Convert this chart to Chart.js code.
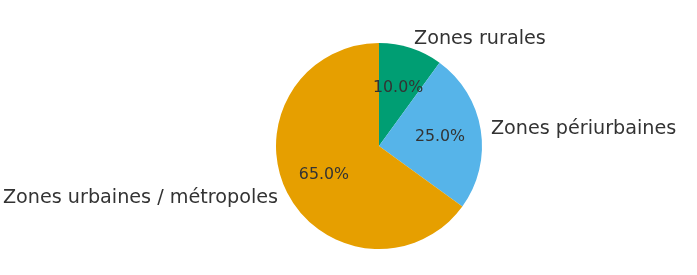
<!DOCTYPE html>
<html>
<head>
<meta charset="utf-8">
<script src="https://cdn.jsdelivr.net/npm/chart.js@4"></script>
<style>
html,body{margin:0;padding:0;background:#fff;}
#c{display:block;}
</style>
</head>
<body>
<canvas id="c" width="697" height="275"></canvas>
<script>
const categories = ["Zones rurales", "Zones périurbaines", "Zones urbaines / métropoles"];
const shares = [10, 25, 65];
const sliceColors = ["#009E73", "#56B4E9", "#E69F00"];

const labelPlugin = {
  id: 'pieLabels',
  afterDatasetsDraw(chart) {
    const ctx = chart.ctx;
    const meta = chart.getDatasetMeta(0);
    const data = chart.data.datasets[0].data;
    const total = data.reduce((a, b) => a + b, 0);
    ctx.save();
    ctx.fillStyle = '#333333';
    meta.data.forEach((arc, i) => {
      const p = arc.getProps(['x', 'y', 'startAngle', 'endAngle', 'outerRadius'], true);
      const mid = (p.startAngle + p.endAngle) / 2;
      const cx = Math.cos(mid), cy = Math.sin(mid);
      const lr = p.outerRadius * 1.1;
      ctx.font = '19.2px "DejaVu Sans"';
      ctx.textBaseline = 'middle';
      ctx.textAlign = cx >= 0 ? 'left' : 'right';
      ctx.fillText(chart.data.labels[i], p.x + cx * lr, p.y + cy * lr + 1);
      const pr = p.outerRadius * 0.6;
      ctx.font = '15.8px "DejaVu Sans"';
      ctx.textAlign = 'center';
      ctx.fillText((data[i] / total * 100).toFixed(1) + '%', p.x + cx * pr, p.y + cy * pr + 1);
    });
    ctx.restore();
  }
};

new Chart(document.getElementById('c'), {
  type: 'pie',
  data: {
    labels: categories,
    datasets: [{
      data: shares,
      backgroundColor: sliceColors,
      borderWidth: 0
    }]
  },
  options: {
    responsive: false,
    animation: false,
    layout: { padding: { left: 276, right: 215, top: 43, bottom: 26 } },
    plugins: { legend: { display: false }, tooltip: { enabled: false } }
  },
  plugins: [labelPlugin]
});
</script>
</body>
</html>
